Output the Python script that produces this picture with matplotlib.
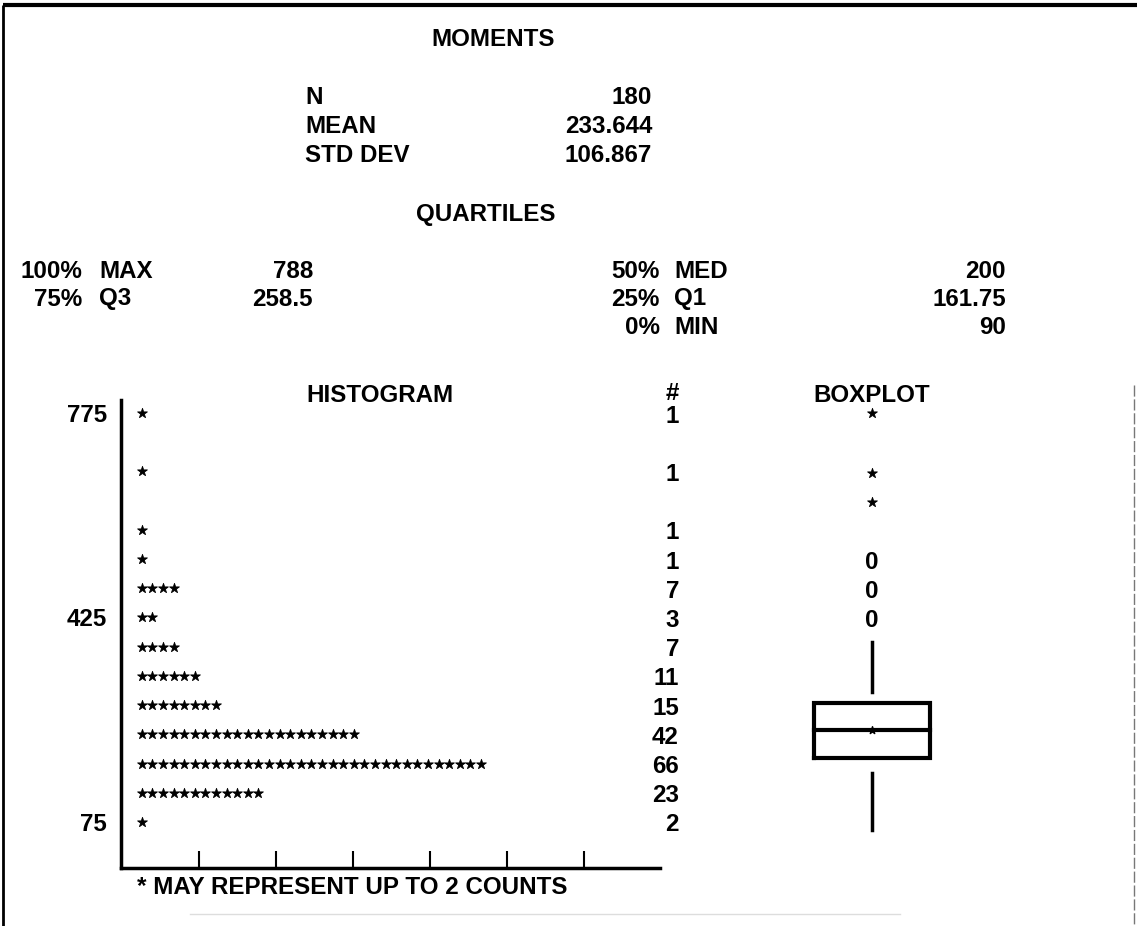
import numpy as np
import matplotlib
matplotlib.use("Agg")
import matplotlib.pyplot as plt
from matplotlib.transforms import blended_transform_factory, offset_copy

# ---------------- data ----------------
moment_labels = ["N", "MEAN", "STD DEV"]
moment_values = ["180", "233.644", "106.867"]

quart_left_pct = ["100%", "75%"]
quart_left_lab = ["MAX", "Q3"]
quart_left_val = ["788", "258.5"]
quart_right_pct = ["50%", "25%", "0%"]
quart_right_lab = ["MED", "Q1", "MIN"]
quart_right_val = ["200", "161.75", "90"]

bin_values = [775, 725, 675, 625, 575, 525, 475, 425, 375, 325, 275, 225, 175, 125, 75]
bin_counts = [1, 0, 1, 0, 1, 1, 7, 3, 7, 11, 15, 42, 66, 23, 2]
counts_per_star = 2
axis_labels = [775, 425, 75]

# boxplot, as read on the row scale of the plot
box_q1, box_med, box_q3 = 184, 232, 279
whisker_low = (61, 159)
whisker_high = (297, 383)
far_outliers = [775, 672, 623]      # drawn as '*'
near_outliers = [525, 475, 425]     # drawn as '0'

# ---------------- figure ----------------
W, H = 1137, 926
fig = plt.figure(figsize=(W / 100, H / 100), dpi=100)
fig.patch.set_facecolor("white")
FONT = "Liberation Sans"
FS = 17.4
txt = dict(family=FONT, fontsize=FS, fontweight="bold", color="black")

bg = fig.add_axes([0, 0, 1, 1])
bg.set_xlim(0, W)
bg.set_ylim(H, 0)
bg.axis("off")

# frame
bg.plot([3, 1137], [5, 5], color="black", lw=3, solid_capstyle="butt")
bg.plot([3, 3], [5, 926], color="black", lw=2, solid_capstyle="butt")
bg.plot([1134, 1134], [385, 926], color="#777777", lw=1, ls=(0, (8, 2)))
bg.plot([190, 900], [914, 914], color="#dddddd", lw=1)

# moments
bg.text(493, 40, "MOMENTS", ha="center", va="center", **txt)
for i, (lab, val) in enumerate(zip(moment_labels, moment_values)):
    y = 98 + i * 28.5
    bg.text(305, y, lab, ha="left", va="center", **txt)
    bg.text(652, y, val, ha="right", va="center", **txt)

# quartiles
bg.text(486, 214, "QUARTILES", ha="center", va="center", **txt)
for i, (p, l, v) in enumerate(zip(quart_left_pct, quart_left_lab, quart_left_val)):
    y = 271 + i * 28
    bg.text(82, y, p, ha="right", va="center", **txt)
    bg.text(99, y, l, ha="left", va="center", **txt)
    bg.text(313, y, v, ha="right", va="center", **txt)
for i, (p, l, v) in enumerate(zip(quart_right_pct, quart_right_lab, quart_right_val)):
    y = 271 + i * 28
    bg.text(660, y, p, ha="right", va="center", **txt)
    bg.text(674, y, l, ha="left", va="center", **txt)
    bg.text(1006, y, v, ha="right", va="center", **txt)

# headers
bg.text(380, 396, "HISTOGRAM", ha="center", va="center", **txt)
bg.text(672, 394, "#", ha="center", va="center", **txt)
bg.text(872, 396, "BOXPLOT", ha="center", va="center", **txt)
bg.text(137, 888, "* MAY REPRESENT UP TO 2 COUNTS", ha="left", va="center", **txt)

# ---------------- histogram ----------------
ax_top, ax_bot, ax_l, ax_r = 400, 868, 121, 660
row_px = 29.21
y_lo = 75 - (ax_bot - 822) / row_px * 50
y_hi = 775 + (413 - ax_top) / row_px * 50
hist = fig.add_axes([ax_l / W, (H - ax_bot) / H, (ax_r - ax_l) / W, (ax_bot - ax_top) / H])
hist.set_facecolor("none")
star_px = 10.6
x_lo = 1 - (141.7 - ax_l) / star_px
x_hi = 1 + (ax_r - 141.7) / star_px
hist.set_xlim(x_lo, x_hi)
hist.set_ylim(y_lo, y_hi)
for s in ["top", "right"]:
    hist.spines[s].set_visible(False)
for s in ["left", "bottom"]:
    hist.spines[s].set_linewidth(2.5)
hist.set_xticks(np.arange(6.4, 44, 7.26))
hist.tick_params(axis="x", direction="in", length=12, width=1.5, labelbottom=False)
hist.set_yticks(axis_labels)
hist.set_yticklabels([str(v) for v in axis_labels])
hist.tick_params(axis="y", length=0, pad=10)
for t in hist.get_yticklabels():
    t.set_fontfamily(FONT)
    t.set_fontsize(FS)
    t.set_fontweight("bold")

for v, c in zip(bin_values, bin_counts):
    n = int(np.ceil(c / counts_per_star))
    if n > 0:
        xs = np.arange(1, n + 1)
        hist.scatter(xs, np.full(n, v), marker="*", s=55, color="black",
                     linewidths=0.6, edgecolors="black", clip_on=False)

# count column (text sits slightly lower than the star row, like the character cells)
tr = blended_transform_factory(bg.transData, hist.transData)
tr_low = offset_copy(tr, fig=fig, y=-3, units="dots")
for v, c in zip(bin_values, bin_counts):
    if c > 0:
        hist.text(679, v, str(c), transform=tr_low, ha="right", va="center", **txt)

# ---------------- boxplot ----------------
bx_l, bx_r = 772, 972
box = fig.add_axes([bx_l / W, (H - ax_bot) / H, (bx_r - bx_l) / W, (ax_bot - ax_top) / H])
box.set_xlim(-100, 100)
box.set_ylim(y_lo, y_hi)
box.axis("off")
half = 58
box.plot([-half, half, half, -half, -half], [box_q1, box_q1, box_q3, box_q3, box_q1],
         color="black", lw=3, solid_joinstyle="miter")
box.plot([-half, half], [box_med, box_med], color="black", lw=3)
box.scatter([0], [box_med], marker="*", s=30, color="black")
box.plot([0, 0], list(whisker_low), color="black", lw=2.5)
box.plot([0, 0], list(whisker_high), color="black", lw=2.5)
box.scatter(np.zeros(len(far_outliers)), far_outliers, marker="*", s=55,
            color="black", linewidths=0.6, edgecolors="black")
tr_box = offset_copy(box.transData, fig=fig, y=-3, units="dots")
for v in near_outliers:
    box.text(0, v, "0", transform=tr_box, ha="center", va="center", **txt)

fig.savefig("out.png", dpi=100, facecolor="white")
